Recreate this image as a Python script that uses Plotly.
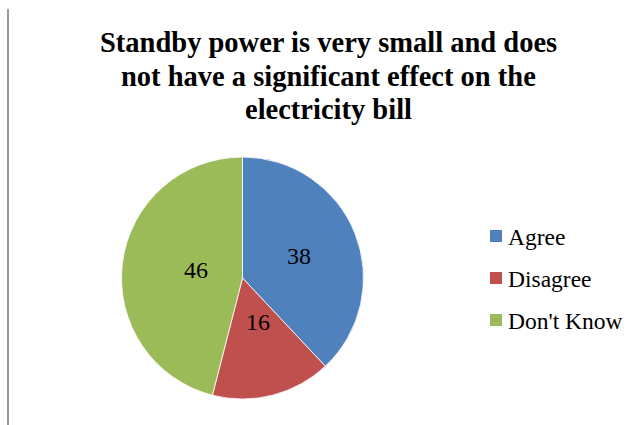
import math
import plotly.graph_objects as go

categories = ["Agree", "Disagree", "Don't Know"]
values = [38, 16, 46]
colors = ["#4F81BD", "#C0504D", "#9BBB59"]
title_lines = ["Standby power is very small and does",
               "not have a significant effect on the",
               "electricity bill"]

SERIF = "Liberation Serif"
W, H = 644, 425
cx, cy, R = 242.5, 278.0, 121.0  # pie centre/radius in px

fig = go.Figure(go.Pie(
    labels=categories, values=values, sort=False, direction="clockwise", rotation=0,
    marker=dict(colors=colors, line=dict(color="white", width=0.8)),
    textinfo="none", hoverinfo="label+value", showlegend=False,
    domain=dict(x=[(cx - R) / W, (cx + R) / W], y=[1 - (cy + R) / H, 1 - (cy - R) / H]),
))

# value labels at half radius along each slice's mid-angle
total = sum(values)
cum = 0
for v in values:
    mid = (cum + v / 2) / total * 2 * math.pi
    cum += v
    px = cx + 0.5 * R * math.sin(mid)
    py = cy - 0.5 * R * math.cos(mid)
    fig.add_annotation(x=px / W, y=1 - py / H, xref="paper", yref="paper", text=str(v),
                       showarrow=False, font=dict(family=SERIF, size=24, color="black"))

# legend
for i, (c, col) in enumerate(zip(categories, colors)):
    yc = 236 + 42 * i
    fig.add_shape(type="rect", xref="paper", yref="paper",
                  x0=490 / W, x1=502 / W, y0=1 - (yc + 6) / H, y1=1 - (yc - 6) / H,
                  fillcolor=col, line=dict(width=0))
    fig.add_annotation(x=506 / W, y=1 - (yc + 1) / H, xref="paper", yref="paper", text=c,
                       xanchor="left", yanchor="middle", showarrow=False,
                       font=dict(family=SERIF, size=23.5, color="black"))

# title, one annotation per line
for i, line in enumerate(title_lines):
    yc = 42.5 + 33.5 * i
    fig.add_annotation(x=328.5 / W, y=1 - yc / H, xref="paper", yref="paper", text="<b>" + line + "</b>",
                       xanchor="center", yanchor="middle", showarrow=False,
                       font=dict(family=SERIF, size=28.5, color="black"))

# left border line
fig.add_shape(type="line", xref="paper", yref="paper", x0=8 / W, x1=8 / W, y0=0, y1=1 - 9 / H,
              line=dict(color="#999999", width=2))

fig.update_layout(
    width=W, height=H, margin=dict(l=0, r=0, t=0, b=0),
    paper_bgcolor="white", plot_bgcolor="white",
)
fig.write_html("out.html")
